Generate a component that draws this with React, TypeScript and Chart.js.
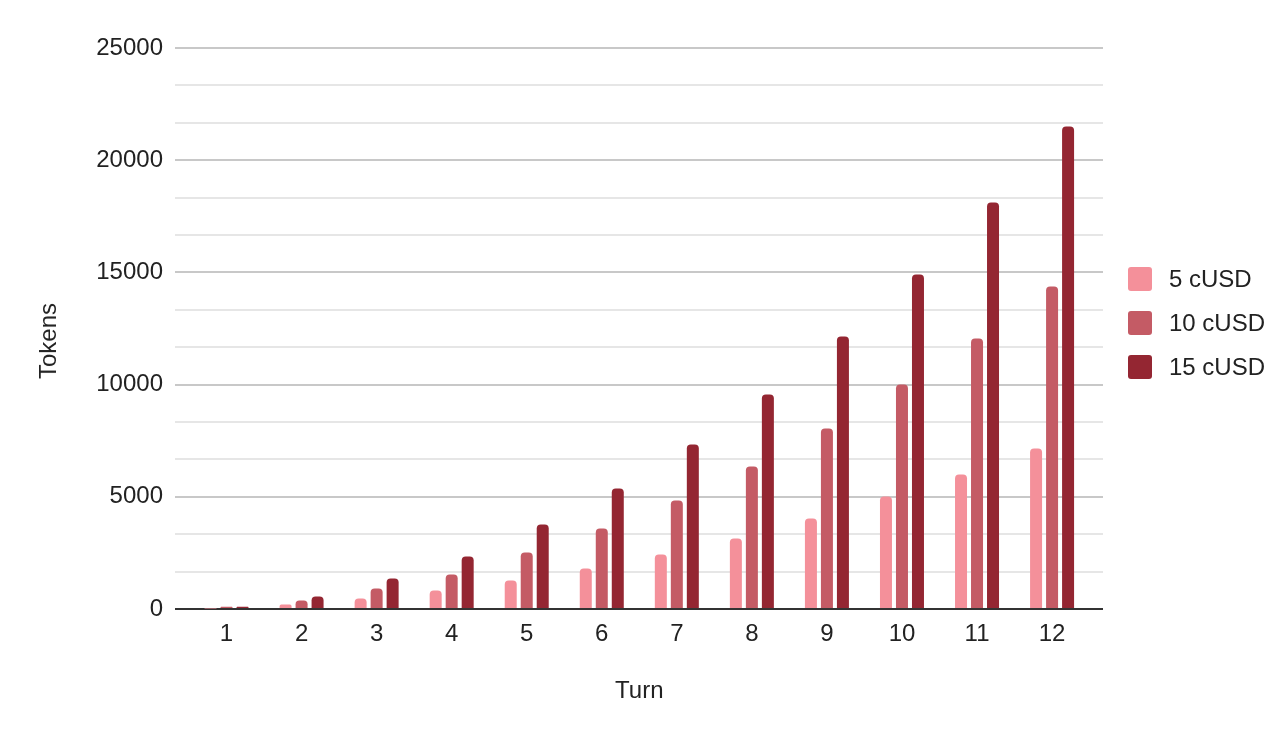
import React, { useEffect, useRef } from "react";
import { Chart, registerables } from "chart.js";

Chart.register(...registerables);

const turns = ["1", "2", "3", "4", "5", "6", "7", "8", "9", "10", "11", "12"];
const seriesNames = ["5 cUSD", "10 cUSD", "15 cUSD"];
const values5 = [20, 200, 470, 820, 1270, 1800, 2430, 3140, 4030, 5010, 5990, 7150];
const values10 = [100, 380, 910, 1540, 2520, 3590, 4840, 6350, 8040, 10000, 12050, 14370];
const values15 = [100, 560, 1360, 2340, 3770, 5370, 7330, 9560, 12140, 14910, 18110, 21500];
const colors = ["#F4909A", "#C45B65", "#942632"];
const yMax = 25000;
const majorStep = 5000;
const minorPerMajor = 3;

const FONT = "'Liberation Sans', Arial, sans-serif";
const TEXT = "#222222";
const FS = 24;

const xInsetPlugin = {
  id: "xInset",
  afterLayout(chart: any) {
    const x = chart.scales.x;
    const area = chart.chartArea;
    x.left = area.left + 14;
    x.right = area.right - 13.4;
    x.width = x.right - x.left;
    x.configure();
  },
};

export default function App() {
  const ref = useRef<HTMLCanvasElement | null>(null);

  useEffect(() => {
    if (!ref.current) return;
    const allSeries = [values5, values10, values15];
    const chart = new Chart(ref.current, {
      type: "bar",
      data: {
        labels: turns,
        datasets: allSeries.map((d, i) => ({
          label: seriesNames[i],
          data: d,
          backgroundColor: colors[i],
          borderRadius: { topLeft: 4, topRight: 4, bottomLeft: 0, bottomRight: 0 },
          borderSkipped: "bottom",
          categoryPercentage: 0.6396,
          barPercentage: 0.75,
        })),
      },
      plugins: [xInsetPlugin],
      options: {
        responsive: false,
        animation: false,
        layout: { padding: { top: 48, right: 169, bottom: 36, left: 0 } },
        plugins: {
          legend: { display: false },
          tooltip: { enabled: false },
        },
        scales: {
          x: {
            grid: { display: false, drawTicks: false },
            border: { display: false },
            ticks: { color: TEXT, font: { family: FONT, size: FS }, padding: 11 },
            title: {
              display: true,
              text: "Turn",
              color: TEXT,
              font: { family: FONT, size: FS },
              padding: { top: 20, bottom: 0 },
            },
            afterFit: (s: any) => {
              s.height = 97;
            },
          },
          y: {
            min: 0,
            max: yMax,
            afterBuildTicks: (s: any) => {
              const n = (yMax / majorStep) * minorPerMajor;
              const t = [];
              for (let i = 0; i <= n; i++) t.push({ value: (i * majorStep) / minorPerMajor });
              s.ticks = t;
            },
            grid: {
              drawTicks: false,
              color: (c: any) =>
                c.index === 0 ? "#333333" : c.index % minorPerMajor === 0 ? "#C8C8C8" : "#E6E6E6",
              lineWidth: 2,
            },
            border: { display: false },
            ticks: {
              color: TEXT,
              font: { family: FONT, size: FS },
              padding: 12,
              autoSkip: false,
              callback: (_v: any, idx: number) =>
                idx % minorPerMajor === 0 ? String(Math.round((idx * majorStep) / minorPerMajor)) : "",
            },
            title: { display: false },
            afterFit: (s: any) => {
              s.width = 175;
            },
          },
        },
      },
    });
    return () => chart.destroy();
  }, []);

  const legendCenters = [279, 323, 367];

  return (
    <div style={{ position: "fixed", left: 0, top: 0, width: 1272, height: 742, background: "#fff" }}>
      <canvas ref={ref} width={1272} height={742} style={{ display: "block" }} />
      <div
        style={{
          position: "absolute",
          left: 48,
          top: 341,
          transform: "translate(-50%, -50%) rotate(-90deg)",
          fontFamily: FONT,
          fontSize: FS,
          color: TEXT,
          whiteSpace: "nowrap",
          lineHeight: 1,
        }}
      >
        Tokens
      </div>
      {seriesNames.map((name, i) => (
        <div
          key={name}
          style={{
            position: "absolute",
            left: 1128,
            top: legendCenters[i] - 13,
            height: 26,
            display: "flex",
            alignItems: "center",
            fontFamily: FONT,
            fontSize: FS,
            color: TEXT,
            whiteSpace: "nowrap",
          }}
        >
          <span
            style={{
              display: "inline-block",
              width: 24,
              height: 24,
              borderRadius: 3,
              background: colors[i],
              marginRight: 17,
            }}
          />
          <span>{name}</span>
        </div>
      ))}
    </div>
  );
}
